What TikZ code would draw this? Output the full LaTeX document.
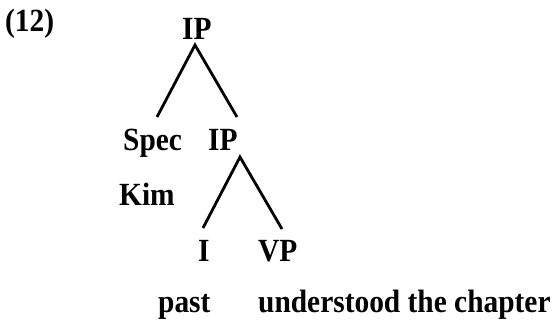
\documentclass[tikz,border=0pt]{standalone}
\usepackage{fontspec}
\setmainfont{Liberation Serif}
% bold labels, slightly heightened
\newcommand{\treelabel}[1]{\scalebox{1}[1.1]{#1}}
\begin{document}
\begin{tikzpicture}[x=1pt,y=-1pt,
  lbl/.style={inner sep=0pt,anchor=base west,font=\fontsize{29.4}{35}\selectfont\bfseries},
  branch/.style={line width=2.8pt,line cap=butt}]
\useasboundingbox (0,0) rectangle (554,324);
% example number
\node[lbl] (num) at (5,31) {\treelabel{(12)}};
% tree labels
\node[lbl] (ipa) at (182,39) {\treelabel{IP}};
\node[lbl] (spec) at (123,150) {\treelabel{Spec}};
\node[lbl] (ipb) at (208,150) {\treelabel{IP}};
\node[lbl] (kim) at (119,205) {\treelabel{Kim}};
\node[lbl] (infl) at (198,261) {\treelabel{I}};
\node[lbl] (vp) at (258,261) {\treelabel{VP}};
\node[lbl] (past) at (158,312) {\treelabel{past}};
\node[lbl] (vpw) at (258,312) {\treelabel{understood the chapter}};
% branch end points
\coordinate (a0) at (195,45);
\coordinate (a1) at (157,117);
\coordinate (a2) at (237,117);
\coordinate (b0) at (240,157);
\coordinate (b1) at (203,228);
\coordinate (b2) at (282,229);
\draw[branch] (a1) -- (a0) -- (a2);
\draw[branch] (b1) -- (b0) -- (b2);
\end{tikzpicture}
\end{document}
